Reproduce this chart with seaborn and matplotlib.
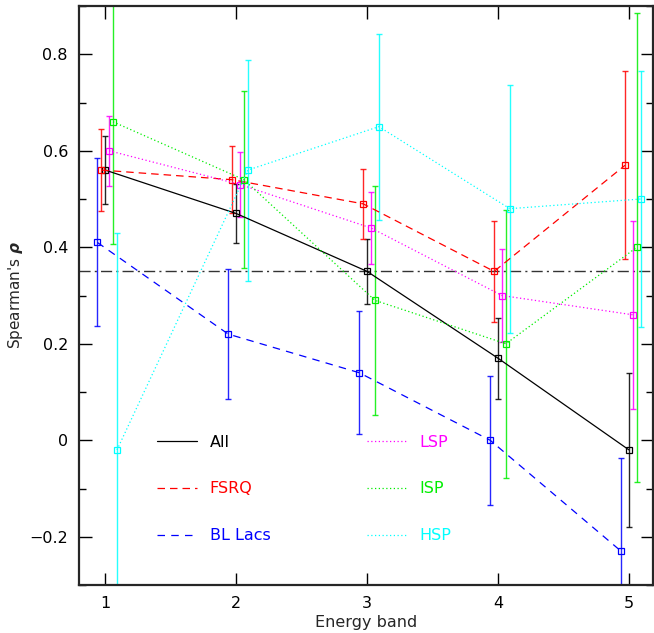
import numpy as np
import pandas as pd
import matplotlib
matplotlib.use("Agg")
import matplotlib.pyplot as plt
import seaborn as sns
from matplotlib.lines import Line2D
from matplotlib.ticker import MultipleLocator, FuncFormatter

# ---- data ----
bands = [1, 2, 3, 4, 5]
series_names = ["All", "FSRQ", "BL Lacs", "LSP", "ISP", "HSP"]
all_rho = [0.56, 0.47, 0.35, 0.17, -0.02]
all_err = [0.07, 0.062, 0.067, 0.084, 0.16]
fsrq_rho = [0.56, 0.54, 0.49, 0.35, 0.57]
fsrq_err = [0.085, 0.07, 0.073, 0.104, 0.195]
bll_rho = [0.41, 0.22, 0.14, 0.0, -0.23]
bll_err = [0.174, 0.135, 0.127, 0.134, 0.193]
lsp_rho = [0.60, 0.53, 0.44, 0.30, 0.26]
lsp_err = [0.073, 0.067, 0.074, 0.097, 0.195]
isp_rho = [0.66, 0.54, 0.29, 0.20, 0.40]
isp_err = [0.253, 0.184, 0.237, 0.278, 0.486]
hsp_rho = [-0.02, 0.56, 0.65, 0.48, 0.50]
hsp_err = [0.449, 0.229, 0.193, 0.257, 0.266]
threshold = 0.35

values = [all_rho, fsrq_rho, bll_rho, lsp_rho, isp_rho, hsp_rho]
errors = [all_err, fsrq_err, bll_err, lsp_err, isp_err, hsp_err]

# ---- styles ----
offsets = [0.0, -0.03, -0.06, 0.03, 0.06, 0.09]
colors = ["#000000", "#ff0000", "#0000ff", "#ff00ff", "#00ee00", "#00ffff"]
styles = ["-", (0, (6, 4)), (0, (6, 5)), (0, (1, 2)), (0, (1, 2)), (0, (1, 2))]

sns.set_style("ticks")
plt.rcParams["font.family"] = ["DejaVu Sans"]

fig = plt.figure(figsize=(6.54, 6.33), dpi=100)
ax = fig.add_axes([0.1208, 0.0758, 0.877, 0.9147])

rows = []
for name, vals, errs, off in zip(series_names, values, errors, offsets):
    for b, v, e in zip(bands, vals, errs):
        rows.append(dict(series=name, x=b + off, rho=v, err=e))
df = pd.DataFrame(rows)

for name, col, ls in zip(series_names, colors, styles):
    d = df[df.series == name]
    ax.errorbar(d.x, d.rho, yerr=d.err, fmt="none", ecolor=col, elinewidth=1.0,
                capsize=2.5, capthick=1.0, alpha=0.85, zorder=2)
    sns.lineplot(data=d, x="x", y="rho", ax=ax, color=col, linestyle=ls,
                 linewidth=0.9, marker="s", markersize=4.5, markerfacecolor="none",
                 markeredgecolor=col, markeredgewidth=0.9, legend=False, zorder=3,
                 estimator=None, sort=False)

ax.axhline(threshold, color="#333333", linestyle=(0, (8, 3, 1.5, 3)), linewidth=1.0, zorder=1)

ax.set_xlim(0.8, 5.18)
ax.set_ylim(-0.3, 0.9)
ax.xaxis.set_major_locator(MultipleLocator(1))
ax.yaxis.set_major_locator(MultipleLocator(0.2))
ax.yaxis.set_minor_locator(MultipleLocator(0.1))
ax.yaxis.set_major_formatter(FuncFormatter(lambda v, p: ("%g" % round(v, 2)).replace("-", "\u2212")))
ax.tick_params(which="both", direction="in", top=True, right=True, width=1.0, labelsize=11.5, colors="black")
ax.tick_params(which="major", length=9, pad=8)
ax.tick_params(which="minor", length=5)
for s in ax.spines.values():
    s.set_linewidth(1.6)
    s.set_visible(True)

ax.set_xlabel("Energy band", fontsize=11.5, labelpad=3)
ax.set_ylabel(r"Spearman's $\boldsymbol{\rho}$", fontsize=11, labelpad=3)

handles = [Line2D([0], [0], color=c, linestyle=ls, linewidth=0.9) for c, ls in zip(colors, styles)]
leg = ax.legend(handles, series_names, ncol=2, frameon=False, loc="lower left",
                bbox_to_anchor=(0.111, 0.047), handlelength=2.5, handletextpad=0.8,
                labelspacing=2.0, columnspacing=6.05, fontsize=11.5, labelcolor="linecolor")

fig.savefig("out.png", dpi=100)
